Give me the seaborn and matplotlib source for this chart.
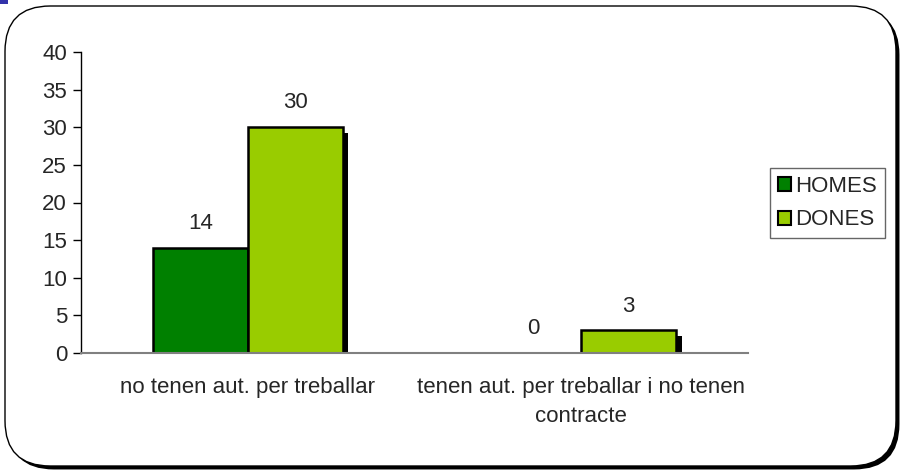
import matplotlib
matplotlib.use("Agg")
import matplotlib.pyplot as plt
import matplotlib.patheffects as pe
from matplotlib.patches import FancyBboxPatch, Rectangle
import seaborn as sns
import pandas as pd

categories = ["no tenen aut. per treballar",
              "tenen aut. per treballar i no tenen\ncontracte"]
series = ["HOMES", "DONES"]
homes = [14, 0]
dones = [30, 3]
yticks = [0, 5, 10, 15, 20, 25, 30, 35, 40]
colors = {"HOMES": "#008000", "DONES": "#99CC00"}

df = pd.DataFrame({
    "categoria": categories * 2,
    "grup": [series[0]] * 2 + [series[1]] * 2,
    "valor": homes + dones,
})

sns.set_style("white")
plt.rcParams["font.family"] = ["Liberation Sans", "DejaVu Sans"]
FS = 16
plt.rcParams["font.size"] = FS

fig = plt.figure(figsize=(9.07, 4.70), dpi=100)

# rounded outer frame with a drop shadow
W, H = 907.0, 470.0
frame = FancyBboxPatch((5 / W, 4 / H), 891 / W, 460 / H,
                       boxstyle="round,pad=0,rounding_size=0.05",
                       transform=fig.transFigure, facecolor="white",
                       edgecolor="black", linewidth=1.0, zorder=-10,
                       mutation_aspect=W / H)
frame.set_path_effects([pe.SimplePatchShadow(offset=(2.5, -2.5),
                                             shadow_rgbFace="black", alpha=1),
                        pe.Normal()])
fig.patches.append(frame)
fig.patches.append(Rectangle((0, 1 - 4 / H), 8 / W, 4 / H,
                             transform=fig.transFigure, facecolor="#3333aa",
                             edgecolor="none", zorder=-9))

ax = fig.add_axes([81 / W, 1 - 353 / H, (748 - 81) / W, (353 - 52) / H])
ax.patch.set_alpha(0)

sns.barplot(data=df, x="categoria", y="valor", hue="grup",
            hue_order=series, order=categories, palette=colors,
            saturation=1, width=0.57, edgecolor="black", linewidth=1.8,
            errorbar=None, legend=False, ax=ax)

shadow = [pe.SimplePatchShadow(offset=(4, -4), shadow_rgbFace="black", alpha=1),
          pe.Normal()]
for bar in ax.patches:
    if bar.get_height() > 0:
        bar.set_path_effects(shadow)
    else:
        bar.set_linewidth(0)

for container in ax.containers:
    ax.bar_label(container, fmt="%d", padding=10, fontsize=FS)

ax.set_ylim(0, 40)
ax.set_xlim(-0.5, 1.5)
ax.set_yticks(yticks)
ax.set_yticklabels([str(t) for t in yticks])
ax.set_xlabel("")
ax.set_ylabel("")
ax.set_xticks([0, 1])
ax.set_xticklabels(categories, linespacing=1.5)
ax.set_xticks([-0.5, 0.5, 1.5], minor=True)
ax.tick_params(axis="x", which="major", length=0, pad=17, labelsize=FS)
ax.tick_params(axis="x", which="minor", length=6, width=1, color="black",
               direction="out")
ax.tick_params(axis="y", length=6, width=1, color="black", direction="out",
               left=True, pad=4, labelsize=FS)

sns.despine(ax=ax, top=True, right=True)
ax.spines["left"].set_color("black")
ax.spines["left"].set_linewidth(1)
ax.spines["bottom"].set_color("#808080")
ax.spines["bottom"].set_linewidth(1.5)

handles = [Rectangle((0, 0), 1, 1, facecolor=colors[s], edgecolor="black",
                     linewidth=1.5) for s in series]
leg = fig.legend(handles, series, loc="upper left",
                 bbox_to_anchor=(770 / W, 1 - 168 / H),
                 frameon=True, fancybox=False, edgecolor="#404040",
                 handlelength=0.6, handleheight=0.6, handletextpad=0.2,
                 borderpad=0.35, labelspacing=0.57, borderaxespad=0,
                 fontsize=FS)
leg.get_frame().set_linewidth(1.0)

fig.savefig("out.png", dpi=100)
